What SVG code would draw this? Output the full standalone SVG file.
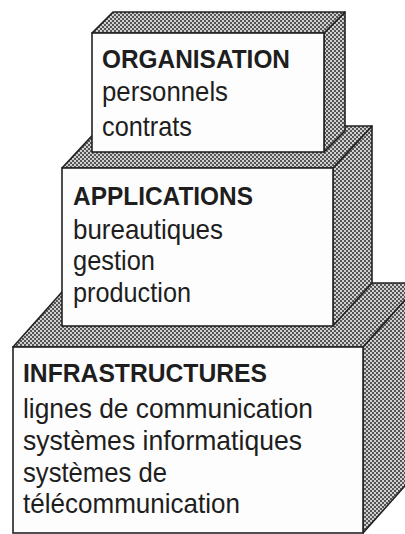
<svg xmlns="http://www.w3.org/2000/svg" width="405" height="534" viewBox="0 0 405 534">
<defs>
<pattern id="dots" width="4" height="4" patternUnits="userSpaceOnUse">
<rect width="4" height="4" fill="#cfcfcf"/>
<rect width="2" height="2" fill="#555"/>
<rect x="2" y="2" width="2" height="2" fill="#555"/>
</pattern>
<style>
.side{fill:url(#dots);stroke:#222;stroke-width:1.6;stroke-linejoin:round}
.front{fill:#fdfdfd;stroke:#222;stroke-width:1.6}
.t{font-family:"Liberation Sans",Arial,sans-serif;fill:#1e1e1e}
.h{font-size:25px;font-weight:bold}
.r{font-size:28px}
</style>
</defs>
<rect width="405" height="534" fill="#fff"/>
<g id="infrastructures">
<polygon class="side" points="363,347 420,283 420,469 363,533"/>
<polygon class="side" points="13,347 70,283 420,283 363,347"/>
<rect class="front" x="13" y="347" width="350" height="186"/>
<text class="t h" x="23" y="382" textLength="244" lengthAdjust="spacingAndGlyphs">INFRASTRUCTURES</text>
<text class="t r" x="23" y="418" textLength="290" lengthAdjust="spacingAndGlyphs">lignes de communication</text>
<text class="t r" x="23" y="450" textLength="279" lengthAdjust="spacingAndGlyphs">systèmes informatiques</text>
<text class="t r" x="23" y="482" textLength="144" lengthAdjust="spacingAndGlyphs">systèmes de</text>
<text class="t r" x="23" y="513" textLength="217" lengthAdjust="spacingAndGlyphs">télécommunication</text>
</g>
<g id="applications">
<polygon class="side" points="333,168 372,126 372,283 333,326"/>
<polygon class="side" points="62,168 101,126 372,126 333,168"/>
<rect class="front" x="62" y="168" width="271" height="158"/>
<text class="t h" x="73" y="205" textLength="180" lengthAdjust="spacingAndGlyphs">APPLICATIONS</text>
<text class="t r" x="73" y="239" textLength="150" lengthAdjust="spacingAndGlyphs">bureautiques</text>
<text class="t r" x="73" y="270" textLength="82" lengthAdjust="spacingAndGlyphs">gestion</text>
<text class="t r" x="73" y="302" textLength="118" lengthAdjust="spacingAndGlyphs">production</text>
</g>
<g id="organisation">
<polygon class="side" points="324,33 345,12 345,131 324,152"/>
<polygon class="side" points="92,33 113,12 345,12 324,33"/>
<rect class="front" x="92" y="33" width="232" height="119"/>
<text class="t h" x="102" y="68" textLength="188" lengthAdjust="spacingAndGlyphs">ORGANISATION</text>
<text class="t r" x="102" y="101" textLength="126" lengthAdjust="spacingAndGlyphs">personnels</text>
<text class="t r" x="102" y="136" textLength="90" lengthAdjust="spacingAndGlyphs">contrats</text>
</g>
</svg>
